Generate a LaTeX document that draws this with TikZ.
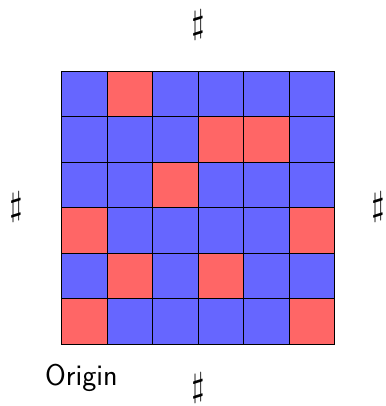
\documentclass[tikz,border=0pt]{standalone}
\tikzset{
  cellbox/.style={draw=black, line width=0.8pt},
  bluecell/.style={cellbox, fill=blue!60},
  redcell/.style={cellbox, fill=red!60},
  sharpsym/.style={scale=3.4, inner sep=0pt},
  originlabel/.style={inner sep=0pt, font=\fontsize{30}{36}\selectfont\sffamily}
}
\begin{document}
\begin{tikzpicture}[x=1pt,y=-1pt]
\useasboundingbox (0,0) rectangle (385,406);
\def\cs{45.5}
\foreach \r in {1,...,6}{
  \foreach \c in {1,...,6}{
    \path[bluecell] ({61.5+\cs*(\c-1)},{71+\cs*(\r-1)}) rectangle ++(\cs,\cs);
  }
}
\foreach \r/\c in {1/2,2/4,2/5,3/3,4/1,4/6,5/2,5/4,6/1,6/6}{
  \path[redcell] ({61.5+\cs*(\c-1)},{71+\cs*(\r-1)}) rectangle ++(\cs,\cs);
}
\node[sharpsym] (top) at (198,25) {$\sharp$};
\node[sharpsym] (bottom) at (198,388) {$\sharp$};
\node[sharpsym] (left) at (16,207) {$\sharp$};
\node[sharpsym] (right) at (378,207) {$\sharp$};
\node[originlabel, anchor=base west] (origin) at (45,385) {Origin};
\end{tikzpicture}
\end{document}
